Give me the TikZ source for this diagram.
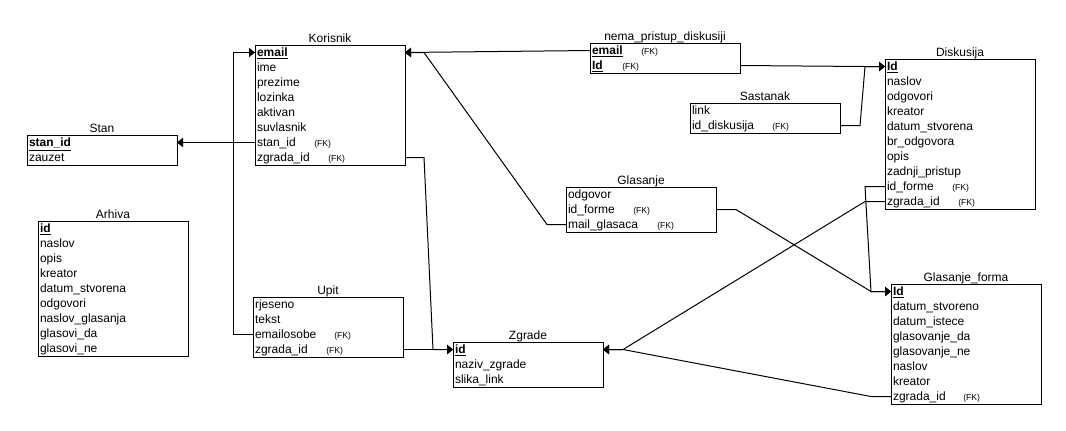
\documentclass[tikz,border=0pt]{standalone}
\usepackage{fontspec}
\setmainfont{Liberation Sans}
\usetikzlibrary{arrows.meta}

\begin{document}
\begin{tikzpicture}[x=0.75pt,y=-0.75pt,
  table box/.style={rectangle,draw,line width=0.75pt,inner sep=0.,outer sep=0.,anchor=north west,minimum width=112.5pt},
  field/.style={rectangle,anchor=north west,inner xsep=1.5pt,inner ysep=0.,outer sep=0.,text width=109.5pt,minimum height=11.25pt,text height=7.5pt,text depth=1.5pt,align=left,font=\fontsize{9}{10}\selectfont},
  table title/.style={anchor=base,inner sep=0.,font=\fontsize{9}{10}\selectfont},
  fk label/.style={anchor=west,inner sep=0.,yshift=-1.1pt,font=\fontsize{6.5}{7}\selectfont},
  fk line/.style={line width=0.75pt,-{Triangle[length=4.5pt,width=7pt]}}]%
  \useasboundingbox[fill=white] (0,0) rectangle (1066,430);
  % Stan
  \node[table box,minimum height=22.5pt] (stan) at (27,135) {};
  \node[table title] (stan-title) at ([yshift=2pt]stan.north) {Stan};
  \node[field] (stan-id) at (27,135) {\underline{\textbf{stan\_id}}};
  \node[field] (stan-zauzet) at (27,150) {zauzet};
  % Korisnik
  \node[table box,minimum height=90pt] (kor) at (255,45) {};
  \node[table title] (kor-title) at ([yshift=2pt]kor.north) {Korisnik};
  \node[field] (kor-email) at (255,45) {\underline{\textbf{email}}};
  \node[field] (kor-ime) at (255,60) {ime};
  \node[field] (kor-prezime) at (255,75) {prezime};
  \node[field] (kor-lozinka) at (255,90) {lozinka};
  \node[field] (kor-aktivan) at (255,105) {aktivan};
  \node[field] (kor-suvlasnik) at (255,120) {suvlasnik};
  \node[field] (kor-stanid) at (255,135) {stan\_id};
  \node[field] (kor-zgrada) at (255,150) {zgrada\_id};
  \node[fk label] (kor-stanid-fk) at (314,142.5) {(FK)};
  \node[fk label] (kor-zgrada-fk) at (328,157.5) {(FK)};
  % nema_pristup_diskusiji
  \node[table box,minimum height=22.5pt] (np) at (590,43) {};
  \node[table title] (np-title) at ([yshift=2pt]np.north) {nema\_pristup\_diskusiji};
  \node[field] (np-email) at (590,43) {\underline{\textbf{email}}};
  \node[field] (np-id) at (590,58) {\underline{\textbf{Id}}};
  \node[fk label] (np-email-fk) at (641,50.5) {(FK)};
  \node[fk label] (np-id-fk) at (622,65.5) {(FK)};
  % Sastanak
  \node[table box,minimum height=22.5pt] (sas) at (690,103) {};
  \node[table title] (sas-title) at ([yshift=2pt]sas.north) {Sastanak};
  \node[field] (sas-link) at (690,103) {link};
  \node[field] (sas-diskid) at (690,118) {id\_diskusija};
  \node[fk label] (sas-diskid-fk) at (772,125.5) {(FK)};
  % Diskusija
  \node[table box,minimum height=112.5pt] (disk) at (885,59) {};
  \node[table title] (disk-title) at ([yshift=2pt]disk.north) {Diskusija};
  \node[field] (disk-id) at (885,59) {\underline{\textbf{Id}}};
  \node[field] (disk-naslov) at (885,74) {naslov};
  \node[field] (disk-odgovori) at (885,89) {odgovori};
  \node[field] (disk-kreator) at (885,104) {kreator};
  \node[field] (disk-datum) at (885,119) {datum\_stvorena};
  \node[field] (disk-brodg) at (885,134) {br\_odgovora};
  \node[field] (disk-opis) at (885,149) {opis};
  \node[field] (disk-pristup) at (885,164) {zadnji\_pristup};
  \node[field] (disk-forme) at (885,179) {id\_forme};
  \node[field] (disk-zgrada) at (885,194) {zgrada\_id};
  \node[fk label] (disk-forme-fk) at (952,186.5) {(FK)};
  \node[fk label] (disk-zgrada-fk) at (958,201.5) {(FK)};
  % Arhiva
  \node[table box,minimum height=101.25pt] (arh) at (38,221) {};
  \node[table title] (arh-title) at ([yshift=2pt]arh.north) {Arhiva};
  \node[field] (arh-id) at (38,221) {\underline{\textbf{id}}};
  \node[field] (arh-naslov) at (38,236) {naslov};
  \node[field] (arh-opis) at (38,251) {opis};
  \node[field] (arh-kreator) at (38,266) {kreator};
  \node[field] (arh-datum) at (38,281) {datum\_stvorena};
  \node[field] (arh-odgovori) at (38,296) {odgovori};
  \node[field] (arh-nglas) at (38,311) {naslov\_glasanja};
  \node[field] (arh-da) at (38,326) {glasovi\_da};
  \node[field] (arh-ne) at (38,341) {glasovi\_ne};
  % Upit
  \node[table box,minimum height=45pt] (upit) at (253,297) {};
  \node[table title] (upit-title) at ([yshift=2pt]upit.north) {Upit};
  \node[field] (upit-rjeseno) at (253,297) {rjeseno};
  \node[field] (upit-tekst) at (253,312) {tekst};
  \node[field] (upit-email) at (253,327) {emailosobe};
  \node[field] (upit-zgrada) at (253,342) {zgrada\_id};
  \node[fk label] (upit-email-fk) at (334,334.5) {(FK)};
  \node[fk label] (upit-zgrada-fk) at (326,349.5) {(FK)};
  % Glasanje
  \node[table box,minimum height=33.75pt] (gl) at (566,187) {};
  \node[table title] (gl-title) at ([yshift=2pt]gl.north) {Glasanje};
  \node[field] (gl-odgovor) at (566,187) {odgovor};
  \node[field] (gl-forme) at (566,202) {id\_forme};
  \node[field] (gl-mail) at (566,217) {mail\_glasaca};
  \node[fk label] (gl-forme-fk) at (633,209.5) {(FK)};
  \node[fk label] (gl-mail-fk) at (657,224.5) {(FK)};
  % Zgrade
  \node[table box,minimum height=33.75pt] (zg) at (453,342) {};
  \node[table title] (zg-title) at ([yshift=2pt]zg.north) {Zgrade};
  \node[field] (zg-id) at (453,342) {\underline{\textbf{id}}};
  \node[field] (zg-naziv) at (453,357) {naziv\_zgrade};
  \node[field] (zg-slika) at (453,372) {slika\_link};
  % Glasanje_forma
  \node[table box,minimum height=90pt] (gf) at (891,284) {};
  \node[table title] (gf-title) at ([yshift=2pt]gf.north) {Glasanje\_forma};
  \node[field] (gf-id) at (891,284) {\underline{\textbf{Id}}};
  \node[field] (gf-stvoreno) at (891,299) {datum\_stvoreno};
  \node[field] (gf-istece) at (891,314) {datum\_istece};
  \node[field] (gf-da) at (891,329) {glasovanje\_da};
  \node[field] (gf-ne) at (891,344) {glasovanje\_ne};
  \node[field] (gf-naslov) at (891,359) {naslov};
  \node[field] (gf-kreator) at (891,374) {kreator};
  \node[field] (gf-zgrada) at (891,389) {zgrada\_id};
  \node[fk label] (gf-zgrada-fk) at (963,396.5) {(FK)};
  % veze
  \draw[fk line] (kor-stanid.west)--(stan-id.east);
  \draw[fk line] (upit-email.west)--([xshift=-15pt]upit-email.west)|-(kor-email.west);
  \draw[fk line] (kor-zgrada.east)--([xshift=14.25pt]kor-zgrada.east)--([xshift=-15pt]zg-id.west)--(zg-id.west);
  \draw[fk line] (upit-zgrada.east)--(zg-id.west);
  \draw[fk line] (np-email.west)--(kor-email.east);
  \draw[fk line] (gl-mail.west)--([xshift=-14.25pt]gl-mail.west)--([xshift=14.25pt]kor-email.east)--(kor-email.east);
  \draw[fk line] (np-id.east)--([xshift=-15pt]disk-id.west)--(disk-id.west);
  \draw[fk line] (sas-diskid.east)--([xshift=15pt]sas-diskid.east)--([xshift=-15pt]disk-id.west)--(disk-id.west);
  \draw[fk line] (gl-forme.east)--([xshift=15pt]gl-forme.east)--([xshift=-15pt]gf-id.west)--(gf-id.west);
  \draw[fk line] (disk-forme.west)--([xshift=-15pt]disk-forme.west)--([xshift=-15pt]gf-id.west)--(gf-id.west);
  \draw[fk line] (disk-zgrada.west)--([xshift=-15pt]disk-zgrada.west)--([xshift=15pt]zg-id.east)--(zg-id.east);
  \draw[fk line] (gf-zgrada.west)--([xshift=-15pt]gf-zgrada.west)--([xshift=15pt]zg-id.east)--(zg-id.east);
\end{tikzpicture}
\end{document}
